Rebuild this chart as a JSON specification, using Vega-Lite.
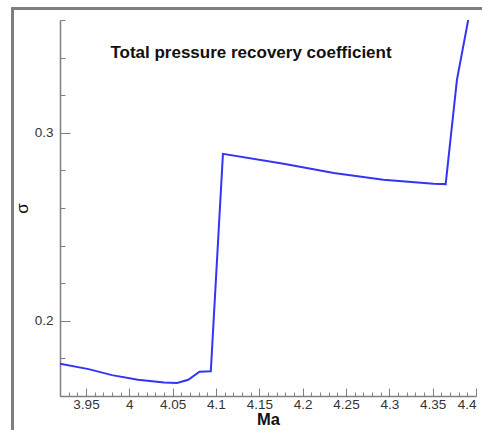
{
  "$schema": "https://vega.github.io/schema/vega-lite/v6.json",
  "autosize": "none",
  "width": 416,
  "height": 376,
  "padding": {"left": 60, "top": 20, "right": 6, "bottom": 34},
  "background": "white",
  "config": {
    "view": {"stroke": null},
    "font": "Liberation Sans",
    "axis": {"grid": false, "domainColor": "#7f7f7f", "domainWidth": 1.5, "tickColor": "#7f7f7f", "tickWidth": 1, "labelFont": "Liberation Sans", "labelColor": "#333333", "labelFontSize": 13.5, "titleFont": "Liberation Sans"}
  },
  "title": {"text": "Total pressure recovery coefficient", "fontSize": 17, "fontWeight": "bold", "color": "#111111", "anchor": "middle", "frame": "group", "offset": -54, "dx": -17},
  "data": {
    "values": [
      {"Ma": 3.92, "sigma": 0.1772},
      {"Ma": 3.953, "sigma": 0.1743},
      {"Ma": 3.98, "sigma": 0.1711},
      {"Ma": 4.01, "sigma": 0.1686},
      {"Ma": 4.04, "sigma": 0.1672},
      {"Ma": 4.055, "sigma": 0.1669},
      {"Ma": 4.068, "sigma": 0.1686},
      {"Ma": 4.081, "sigma": 0.1729},
      {"Ma": 4.094, "sigma": 0.1732},
      {"Ma": 4.108, "sigma": 0.2888},
      {"Ma": 4.178, "sigma": 0.2835},
      {"Ma": 4.236, "sigma": 0.2786},
      {"Ma": 4.293, "sigma": 0.275},
      {"Ma": 4.351, "sigma": 0.2729},
      {"Ma": 4.365, "sigma": 0.2727},
      {"Ma": 4.378, "sigma": 0.3282},
      {"Ma": 4.391, "sigma": 0.36}
    ]
  },
  "resolve": {"axis": {"x": "independent", "y": "independent"}},
  "layer": [
    {
      "mark": {"type": "rect", "fill": null, "fillOpacity": 0, "stroke": "#7f7f7f", "strokeWidth": 2, "clip": false},
      "encoding": {
        "x": {"datum": 3.865, "type": "quantitative", "scale": {"domain": [3.92, 4.4], "nice": false, "zero": false}, "axis": null},
        "x2": {"datum": 4.6},
        "y": {"datum": 0.366, "type": "quantitative", "scale": {"domain": [0.16, 0.36], "nice": false, "zero": false}, "axis": null},
        "y2": {"datum": 0.1}
      }
    },
    {
      "mark": {"type": "line", "strokeOpacity": 0},
      "encoding": {
        "x": {"field": "Ma", "type": "quantitative", "axis": {"orient": "bottom", "title": null, "labels": false, "domain": false, "tickSize": -4,
          "values": [3.92,3.93,3.94,3.95,3.96,3.97,3.98,3.99,4.0,4.01,4.02,4.03,4.04,4.05,4.06,4.07,4.08,4.09,4.1,4.11,4.12,4.13,4.14,4.15,4.16,4.17,4.18,4.19,4.2,4.21,4.22,4.23,4.24,4.25,4.26,4.27,4.28,4.29,4.3,4.31,4.32,4.33,4.34,4.35,4.36,4.37,4.38,4.39,4.4]}},
        "y": {"field": "sigma", "type": "quantitative", "axis": {"orient": "left", "title": null, "labels": false, "domain": false, "tickSize": -5,
          "values": [0.16,0.18,0.2,0.22,0.24,0.26,0.28,0.3,0.32,0.34,0.36]}}
      }
    },
    {
      "mark": {"type": "line", "color": "#3434f4", "strokeWidth": 2, "clip": true},
      "encoding": {
        "x": {"field": "Ma", "type": "quantitative", "axis": {"orient": "bottom", "title": "Ma", "titleFontSize": 16.5, "titleFontWeight": "bold", "titleColor": "#111111", "titlePadding": 1, "tickSize": -8, "labelPadding": 9,
          "values": [3.95,4.0,4.05,4.1,4.15,4.2,4.25,4.3,4.35,4.4], "format": "~g"}},
        "y": {"field": "sigma", "type": "quantitative", "axis": {"orient": "left", "title": "σ", "titleFontSize": 17, "titleFontWeight": "normal", "titleColor": "#111111", "titlePadding": 3, "tickSize": -10, "labelPadding": 17,
          "values": [0.2,0.3], "format": "~g"}}
      }
    }
  ]
}
